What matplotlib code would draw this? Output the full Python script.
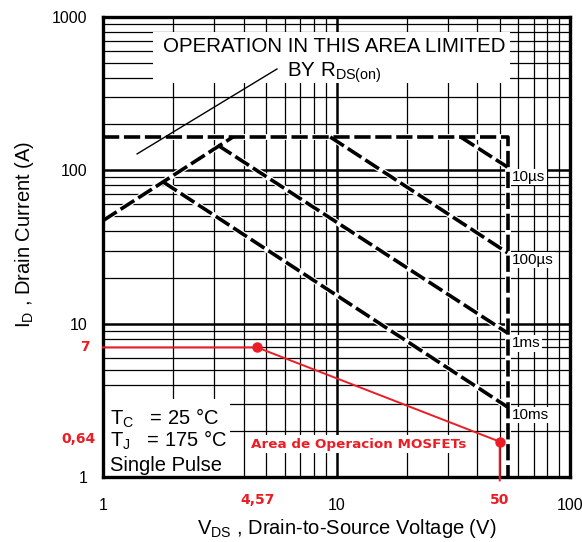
import matplotlib
matplotlib.use("Agg")
import matplotlib.pyplot as plt
import matplotlib.transforms as mtransforms
from matplotlib.patches import Rectangle

plt.rcParams['font.family'] = ['Liberation Sans', 'DejaVu Sans']
plt.rcParams['mathtext.fontset'] = 'custom'
plt.rcParams['mathtext.rm'] = 'Liberation Sans'
plt.rcParams['mathtext.it'] = 'Liberation Sans:italic'

# ---- data ----
limit_vds = [1, 54, 54]            # package / thermal limit (horizontal then vertical)
limit_id = [165, 165, 1]
rds_vds = [1, 3.6]                 # Rds(on) limited line
rds_id = [47, 165]
us10_vds = [34, 54]
us10_id = [165, 105]
us100_vds = [9.4, 54]
us100_id = [165, 29]
ms1_vds = [3.1, 54]
ms1_id = [146, 8.7]
ms10_vds = [1.81, 54]
ms10_id = [84, 2.86]
pointer_vds = [1.40, 5.56]         # thin line pointing at the Rds(on) text
pointer_id = [128, 458]

# red operating area drawn on top
op_vds = [1, 4.57, 50, 50]
op_id = [7, 7, 1.7, 0.95]
op_pts_vds = [4.57, 50]
op_pts_id = [7, 1.7]

RED = '#ec1c24'

fig = plt.figure(figsize=(5.82, 5.42), dpi=100)
ax = fig.add_axes([103 / 582, 1 - 477 / 542, 467 / 582, 460 / 542])
ax.set_xscale('log')
ax.set_yscale('log')
ax.set_xlim(1, 100)
ax.set_ylim(1, 1000)

# grid
ax.set_axisbelow(True)
ax.grid(which='major', color='black', lw=1.8)
ax.grid(which='minor', color='black', lw=0.9)
for s in ax.spines.values():
    s.set_linewidth(2.4)
ax.tick_params(which='both', length=0, labelsize=11.5, pad=11)
ax.set_xticks([1, 10, 100], ['1', '10', '100'])
ax.set_yticks([1, 10, 100, 1000], ['1', '10', '100', '1000'])
ax.xaxis.set_tick_params(pad=15)

# white areas behind the notes
ax.add_patch(Rectangle((0.107, 0.857), 0.765, 0.11, transform=ax.transAxes,
                       facecolor='white', edgecolor='none', zorder=1))
ax.add_patch(Rectangle((0.003, 0.003), 0.269, 0.167, transform=ax.transAxes,
                       facecolor='white', edgecolor='none', zorder=1))


def dashed(x, y):
    ax.plot(x, y, color='white', lw=4.2, zorder=2, solid_capstyle='butt')
    ax.plot(x, y, color='black', lw=2.6, dashes=(4.5, 1.3), zorder=3)


dashed(limit_vds, limit_id)
dashed(rds_vds, rds_id)
dashed(us10_vds, us10_id)
dashed(us100_vds, us100_id)
dashed(ms1_vds, ms1_id)
dashed(ms10_vds, ms10_id)
ax.plot(pointer_vds, pointer_id, color='black', lw=1.0, zorder=3)

# notes
ax.text(0.495, 0.935, 'OPERATION IN THIS AREA LIMITED', transform=ax.transAxes,
        ha='center', va='center', fontsize=14.8, zorder=4)
ax.text(0.394, 0.878, r'BY R$_{\mathrm{DS(on)}}$', transform=ax.transAxes,
        ha='left', va='center', fontsize=14.8, zorder=4)

box = dict(facecolor='white', edgecolor='none', pad=1)
ax.text(0.876, 0.652, '10µs', transform=ax.transAxes, ha='left', va='center',
        fontsize=11, bbox=box, zorder=4)
ax.text(0.876, 0.472, '100µs', transform=ax.transAxes, ha='left', va='center',
        fontsize=11, bbox=box, zorder=4)
ax.text(0.876, 0.291, '1ms', transform=ax.transAxes, ha='left', va='center',
        fontsize=11, bbox=box, zorder=4)
ax.text(0.876, 0.135, '10ms', transform=ax.transAxes, ha='left', va='center',
        fontsize=11, bbox=box, zorder=4)

ax.text(0.015, 0.128, r'T$_{\mathrm{C}}$   = 25 °C', transform=ax.transAxes,
        ha='left', va='center', fontsize=14.5, zorder=4)
ax.text(0.015, 0.080, r'T$_{\mathrm{J}}$   = 175 °C', transform=ax.transAxes,
        ha='left', va='center', fontsize=14.5, zorder=4)
ax.text(0.015, 0.026, 'Single Pulse', transform=ax.transAxes,
        ha='left', va='center', fontsize=14.5, zorder=4)

# red operating area
ax.plot(op_vds, op_id, color=RED, lw=1.4, zorder=5, clip_on=False)
ax.plot(op_pts_vds, op_pts_id, 'o', color=RED, ms=6.5, zorder=6)
ax.text(0.547, 0.0717, 'Area de Operacion MOSFETs', transform=ax.transAxes,
        ha='center', va='center', fontsize=9.7, color=RED, weight='bold',
        family='DejaVu Sans', bbox=dict(facecolor='white', edgecolor='none', pad=2),
        zorder=4)

xt = mtransforms.blended_transform_factory(ax.transData, ax.transAxes)
yt = mtransforms.blended_transform_factory(ax.transAxes, ax.transData)
ax.text(4.57, -0.05, '4,57', transform=xt, ha='center', va='center',
        fontsize=10, color=RED, weight='bold', family='DejaVu Sans')
ax.text(50, -0.05, '50', transform=xt, ha='center', va='center',
        fontsize=10, color=RED, weight='bold', family='DejaVu Sans')
ax.text(-0.028, 7, '7', transform=yt, ha='right', va='center',
        fontsize=10, color=RED, weight='bold', family='DejaVu Sans')
ax.text(-0.015, 1.78, '0,64', transform=yt, ha='right', va='center',
        fontsize=10, color=RED, weight='bold', family='DejaVu Sans')

# axis titles
ax.text(0.5225, -0.111, r'V$_{\mathrm{DS}}$ , Drain-to-Source Voltage (V)',
        transform=ax.transAxes, ha='center', va='center', fontsize=14.5)
ax.text(-0.169, 0.528, r'I$_{\mathrm{D}}$ , Drain Current (A)',
        transform=ax.transAxes, ha='center', va='center', fontsize=14.5,
        rotation=90)

fig.savefig('out.png', dpi=100)
